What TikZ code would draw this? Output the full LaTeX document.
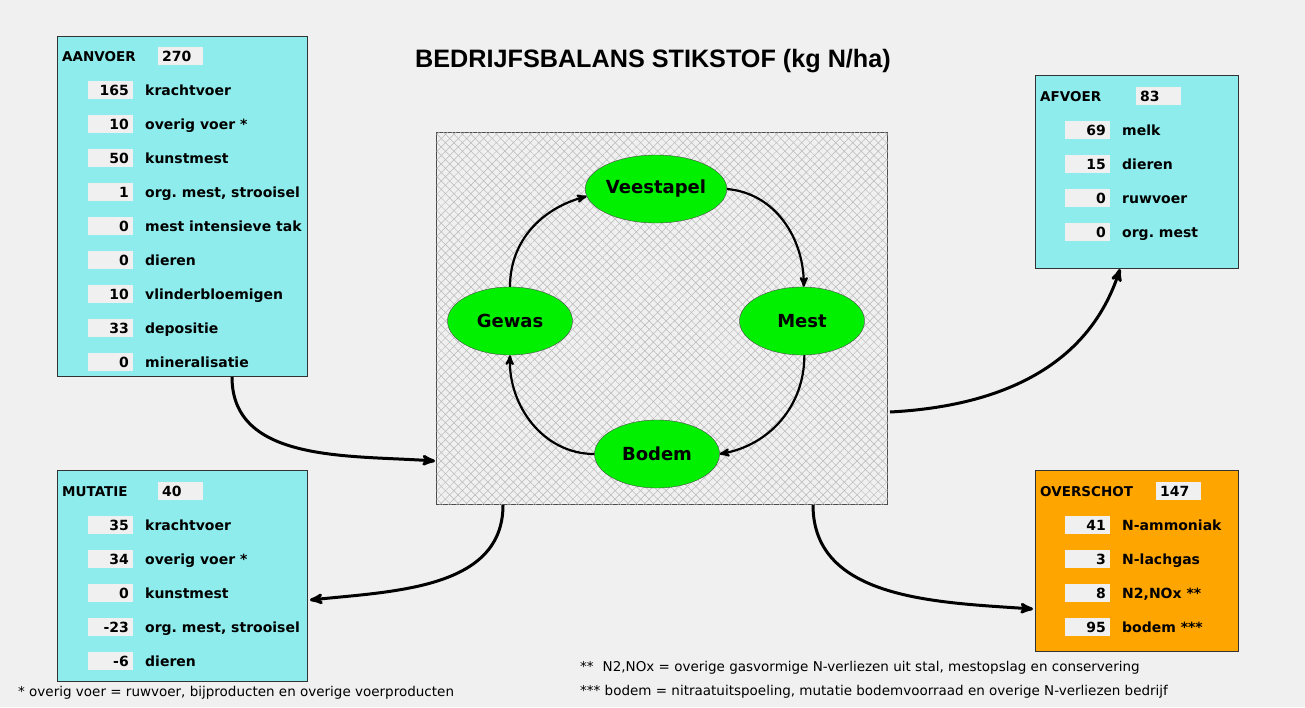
\documentclass[tikz,border=0pt]{standalone}
\usepackage{fontspec}
\setmainfont{DejaVu Sans}
\newfontfamily\titelfont{Liberation Sans}
\usetikzlibrary{arrows,patterns.meta,shapes.geometric}
\frenchspacing

\definecolor{achtergrond}{RGB}{240,240,240}
\definecolor{turkoois}{RGB}{142,236,236}
\definecolor{oranje}{RGB}{255,165,0}
\definecolor{groen}{RGB}{0,240,0}

\begin{document}
\begin{tikzpicture}[
    x = 1pt,
    y = 1pt,
    >=stealth',
    kader/.style = {
      draw = black!80,
      line width = 1.2pt,
      anchor = north west,
      inner sep = 0pt
    },
    kop/.style = {
      anchor = west,
      inner sep = 0pt,
      text height = 12pt,
      text depth = 2pt,
      font = \bfseries\fontsize{13.5}{14}\selectfont
    },
    label/.style = {
      kop,
      font = \bfseries\fontsize{14}{14}\selectfont
    },
    waarde/.style = {
      fill = achtergrond,
      anchor = east,
      minimum height = 18pt,
      text width = 37pt,
      inner xsep = 4pt,
      inner ysep = 0pt,
      align = right,
      text height = 12pt,
      text depth = 2pt,
      font = \bfseries\fontsize{14}{14}\selectfont
    },
    kopwaarde/.style = {
      waarde,
      anchor = west,
      align = left
    },
    kringloop/.style = {
      ellipse,
      draw = black!70,
      fill = groen,
      minimum width = 125pt,
      minimum height = 68pt,
      inner sep = 0pt,
      font = \bfseries\fontsize{18}{18}\selectfont
    },
    pijl/.style = {->, line width = 2.2pt},
    dikkepijl/.style = {->, line width = 3pt},
    voetnoot/.style = {
      anchor = west,
      inner sep = 0pt,
      font = \fontsize{13.5}{14}\selectfont
    }
  ]
  \fill[achtergrond] (0,0) rectangle (1305,-707);
  \useasboundingbox (0,0) rectangle (1305,-707);

  \node[anchor=base, inner sep=0pt, font=\titelfont\bfseries\fontsize{25.2}{26}\selectfont] (titel) at (653,-67) {BEDRIJFSBALANS STIKSTOF (kg N/ha)};

  % aanvoer
  \node[kader, fill=turkoois, minimum width=250pt, minimum height=340pt] (aanvoer) at (57,-36) {};
  \node[kop] (aanvoer-kop) at (62,-56) {AANVOER};
  \node[kopwaarde] (aanvoer-totaal) at (158,-56) {270};
  \node[waarde] (a1w) at (133,-90) {165};
  \node[label] (a1) at (145,-90) {krachtvoer};
  \node[waarde] (a2w) at (133,-124) {10};
  \node[label] (a2) at (145,-124) {overig voer *};
  \node[waarde] (a3w) at (133,-158) {50};
  \node[label] (a3) at (145,-158) {kunstmest};
  \node[waarde] (a4w) at (133,-192) {1};
  \node[label] (a4) at (145,-192) {org. mest, strooisel};
  \node[waarde] (a5w) at (133,-226) {0};
  \node[label] (a5) at (145,-226) {mest intensieve tak};
  \node[waarde] (a6w) at (133,-260) {0};
  \node[label] (a6) at (145,-260) {dieren};
  \node[waarde] (a7w) at (133,-294) {10};
  \node[label] (a7) at (145,-294) {vlinderbloemigen};
  \node[waarde] (a8w) at (133,-328) {33};
  \node[label] (a8) at (145,-328) {depositie};
  \node[waarde] (a9w) at (133,-362) {0};
  \node[label] (a9) at (145,-362) {mineralisatie};

  % mutatie
  \node[kader, fill=turkoois, minimum width=250pt, minimum height=211pt] (mutatie) at (57,-470) {};
  \node[kop] (mutatie-kop) at (62,-491) {MUTATIE};
  \node[kopwaarde] (mutatie-totaal) at (158,-491) {40};
  \node[waarde] (m1w) at (133,-525) {35};
  \node[label] (m1) at (145,-525) {krachtvoer};
  \node[waarde] (m2w) at (133,-559) {34};
  \node[label] (m2) at (145,-559) {overig voer *};
  \node[waarde] (m3w) at (133,-593) {0};
  \node[label] (m3) at (145,-593) {kunstmest};
  \node[waarde] (m4w) at (133,-627) {-23};
  \node[label] (m4) at (145,-627) {org. mest, strooisel};
  \node[waarde] (m5w) at (133,-661) {-6};
  \node[label] (m5) at (145,-661) {dieren};

  % afvoer
  \node[kader, fill=turkoois, minimum width=203pt, minimum height=193pt] (afvoer) at (1035,-75) {};
  \node[kop] (afvoer-kop) at (1040,-96) {AFVOER};
  \node[kopwaarde] (afvoer-totaal) at (1136,-96) {83};
  \node[waarde] (f1w) at (1110,-130) {69};
  \node[label] (f1) at (1122,-130) {melk};
  \node[waarde] (f2w) at (1110,-164) {15};
  \node[label] (f2) at (1122,-164) {dieren};
  \node[waarde] (f3w) at (1110,-198) {0};
  \node[label] (f3) at (1122,-198) {ruwvoer};
  \node[waarde] (f4w) at (1110,-232) {0};
  \node[label] (f4) at (1122,-232) {org. mest};

  % overschot
  \node[kader, fill=oranje, minimum width=203pt, minimum height=181pt] (overschot) at (1035,-470) {};
  \node[kop] (overschot-kop) at (1040,-491) {OVERSCHOT};
  \node[kopwaarde] (overschot-totaal) at (1156,-491) {147};
  \node[waarde] (o1w) at (1110,-525) {41};
  \node[label] (o1) at (1122,-525) {N-ammoniak};
  \node[waarde] (o2w) at (1110,-559) {3};
  \node[label] (o2) at (1122,-559) {N-lachgas};
  \node[waarde] (o3w) at (1110,-593) {8};
  \node[label] (o3) at (1122,-593) {N2,NOx **};
  \node[waarde] (o4w) at (1110,-627) {95};
  \node[label] (o4) at (1122,-627) {bodem ***};

  % bedrijf met kringloop
  \node[kader, draw=black!70, line width=1pt, fill=achtergrond, minimum width=451pt, minimum height=372pt,
    postaction={pattern={Lines[angle=45,distance=6pt,line width=0.5pt]}, pattern color=gray!55},
    postaction={pattern={Lines[angle=-45,distance=6pt,line width=0.5pt]}, pattern color=gray!55}] (bedrijf) at (436,-132) {};
  \node[kringloop] (veestapel) at (656,-189) {Veestapel};
  \node[kringloop] (gewas) at (510,-321) {Gewas};
  \node[kringloop] (mest) at (802,-321) {Mest};
  \node[kringloop] (bodem) at (657,-454) {Bodem};

  \draw[pijl] (gewas.north) to[out=90, in=195] (veestapel.186);
  \draw[pijl] (veestapel.east) to[out=-5, in=90] (mest.87);
  \draw[pijl] (mest.-86) to[out=-90, in=10] (bodem.east);
  \draw[pijl] (bodem.west) to[out=180, in=-92] (gewas.south);

  % stromen
  \coordinate (aanvoer-uit) at (232,-377);
  \coordinate (bedrijf-in) at (435,-461);
  \coordinate (bedrijf-afvoer) at (890,-412);
  \coordinate (afvoer-in) at (1120,-269);
  \coordinate (bedrijf-mutatie) at (503,-505);
  \coordinate (mutatie-in) at (310,-600);
  \coordinate (bedrijf-overschot) at (813,-505);
  \coordinate (overschot-in) at (1033,-609);

  \draw[dikkepijl] (aanvoer-uit) to[out=-90, in=176] (bedrijf-in);
  \draw[dikkepijl] (bedrijf-afvoer) to[out=3, in=-108] (afvoer-in);
  \draw[dikkepijl] (bedrijf-mutatie) to[out=-90, in=6] (mutatie-in);
  \draw[dikkepijl] (bedrijf-overschot) to[out=-90, in=176] (overschot-in);

  % voetnoten
  \node[voetnoot] (noot1) at (18,-693) {* overig voer = ruwvoer, bijproducten en overige voerproducten};
  \node[voetnoot] (noot2) at (580,-668) {**\hspace{9pt}N2,NOx = overige gasvormige N-verliezen uit stal, mestopslag en conservering};
  \node[voetnoot] (noot3) at (580,-692) {*** bodem = nitraatuitspoeling, mutatie bodemvoorraad en overige N-verliezen bedrijf};
\end{tikzpicture}
\end{document}
